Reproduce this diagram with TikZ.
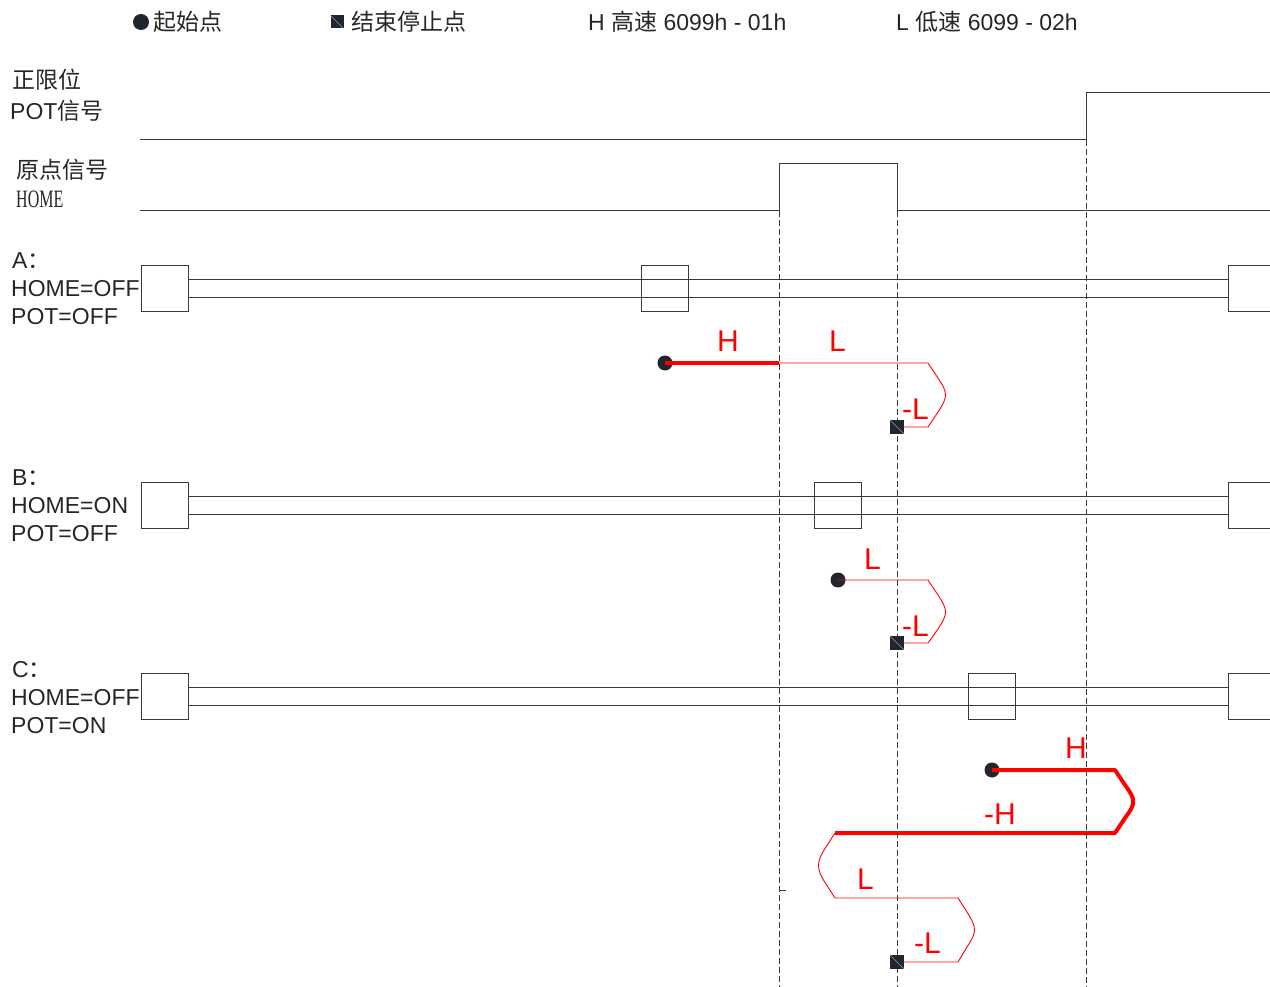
\documentclass[tikz,border=0pt]{standalone}
\usepackage{fontspec}
\setmainfont{Liberation Sans}
\newfontfamily\cjk{Noto Sans CJK SC}
\newfontfamily\tnr{Liberation Serif}
\definecolor{dotc}{HTML}{20262E}
\definecolor{linec}{HTML}{3A3A3A}
\begin{document}
\begin{tikzpicture}[x=1pt,y=-1pt,
  sig/.style={draw=linec, line width=1pt},
  guide/.style={draw=linec, line width=0.9pt, dash pattern=on 6pt off 3pt},
  rail/.style={draw=linec, line width=1pt},
  box/.style={draw=linec, fill=white, line width=1pt},
  markbox/.style={draw=linec, line width=1pt},
  fast/.style={draw=red, line width=4pt},
  slow/.style={draw=red, line width=0.9pt},
  lbl/.style={font=\fontsize{23}{27}\selectfont, inner sep=0, anchor=base west, text=black!85},
  rlbl/.style={font=\fontsize{30}{34}\selectfont, inner sep=0, anchor=base west, text=red},
  startdot/.style={circle, fill=dotc, inner sep=0, minimum size=15pt},
  stopsq/.style={rectangle, fill=dotc, inner sep=0, minimum size=14pt,
    path picture={\draw[white!55!dotc, line width=0.5pt] (path picture bounding box.north west) -- (path picture bounding box.south east);}},
]
\useasboundingbox (0,0) rectangle (1270,987);

% legend
\node[startdot, minimum size=16pt] (lgdot) at (141,22) {};
\node[lbl] (lg1) at (153,31) {\cjk 起始点};
\node[stopsq, minimum size=13pt] (lgsq) at (337,22) {};
\node[lbl] (lg2) at (351,31) {\cjk 结束停止点};
\node[lbl] (lg3) at (588,31) {H {\cjk 高速} 6099h - 01h};
\node[lbl] (lg4) at (896,31) {L {\cjk 低速} 6099 - 02h};

% signal labels
\node[lbl] (potA) at (12,89) {\cjk 正限位};
\node[lbl] (potB) at (10,120) {POT{\cjk 信号}};
\node[lbl] (homeA) at (16,179) {\cjk 原点信号};
\node[lbl, font=\fontsize{25}{29}\selectfont\tnr] (homeB) at (16,208) {\scalebox{0.64}[1]{HOME}};

% signals
\draw[sig] (140,140) -- (1086,140) -- (1086,93) -- (1275,93);
\draw[sig] (140,211) -- (779,211) -- (779,164) -- (897,164) -- (897,211) -- (1275,211);

% rows
\foreach \yt/\mx in {266/641, 482/814, 673/968}{
  \draw[rail] (188,\yt+14) -- (1228,\yt+14);
  \draw[rail] (188,\yt+32) -- (1228,\yt+32);
  \draw[box] (141,\yt) rectangle (188,\yt+46);
  \draw[markbox] (\mx,\yt) rectangle (\mx+47,\yt+46);
  \draw[box] (1228,\yt) rectangle (1290,\yt+46);
}

\node[lbl] (a1) at (12,269) {A{\cjk ：}};
\node[lbl] (a2) at (11,297) {HOME=OFF};
\node[lbl] (a3) at (11,325) {POT=OFF};
\node[lbl] (b1) at (12,485) {B{\cjk ：}};
\node[lbl] (b2) at (11,513) {HOME=ON};
\node[lbl] (b3) at (11,541) {POT=OFF};
\node[lbl] (c1) at (12,677) {C{\cjk ：}};
\node[lbl] (c2) at (11,705) {HOME=OFF};
\node[lbl] (c3) at (11,733) {POT=ON};

% start and stop points
\node[startdot] (sA) at (665,363) {};
\node[stopsq] (eA) at (897,427) {};
\node[startdot] (sB) at (838,580) {};
\node[stopsq] (eB) at (897,643) {};
\node[startdot] (sC) at (992,770) {};
\node[stopsq] (eC) at (897,962) {};

% path A
\coordinate (hA) at (779,363);
\draw[fast] (sA.center) -- (hA);
\draw[slow] (hA) -- (928,363) -- (938,378) .. controls (948,393) and (948,397) .. (938,412) -- (928,427) -- (eA.east);

% path B
\draw[slow] (sB.center) -- (928,580) -- (938,595) .. controls (948,610) and (948,614) .. (938,629) -- (928,643) -- (eB.east);

% path C
\coordinate (tC) at (835,833);
\draw[fast, line join=round] (sC.center) -- (1115,770) -- (1125,785) .. controls (1136,800) and (1136,803) .. (1125,818) -- (1115,833) -- (tC);
\draw[slow] (tC) -- (826,847) .. controls (816,862) and (816,869) .. (826,884) -- (835,898) -- (958,898) -- (967,912) .. controls (977,928) and (977,932) .. (967,947) -- (958,962) -- (eC.east);

% guides
\draw[guide] (779,211) -- (779,987);
\draw[guide] (897,211) -- (897,987);
\draw[guide] (1086,140) -- (1086,987);
\draw[linec, line width=0.8pt] (779,890) -- (786,890);

% redraw markers on top
\node[stopsq] at (eA) {};
\node[stopsq] at (eB) {};
\node[stopsq] at (eC) {};

% speed labels
\node[rlbl] (lh1) at (717,352) {H};
\node[rlbl] (ll1) at (829,352) {L};
\node[rlbl] (lm1) at (902,419) {-L};
\node[rlbl] (ll2) at (864,569) {L};
\node[rlbl] (lm2) at (902,636) {-L};
\node[rlbl] (lh3) at (1065,758) {H};
\node[rlbl] (lmh3) at (984,824) {-H};
\node[rlbl] (ll3) at (857,889) {L};
\node[rlbl] (lm3) at (914,953) {-L};
\end{tikzpicture}
\end{document}
